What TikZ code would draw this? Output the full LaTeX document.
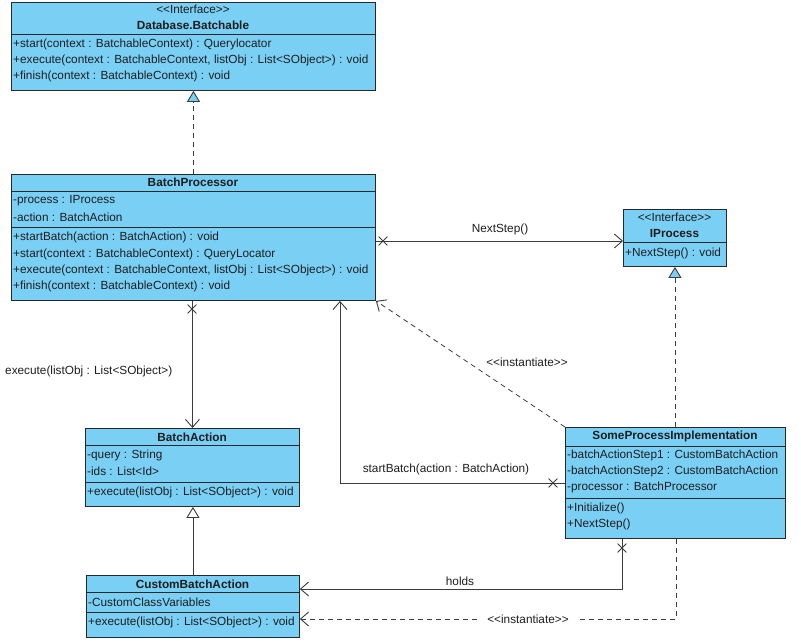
\documentclass[tikz,border=0pt]{standalone}
\usepackage{fontspec}
\setmainfont{Liberation Sans}
\usetikzlibrary{arrows.meta,shapes.misc}
\definecolor{boxblue}{RGB}{122,207,245}
\definecolor{bordercol}{RGB}{40,40,40}
\definecolor{linecol}{RGB}{60,60,60}
\definecolor{textcol}{RGB}{30,30,30}
\newcommand{\umlf}{\fontsize{11.8}{14}\selectfont}
\tikzset{
  box/.style={draw=bordercol, fill=boxblue, line width=0.9pt, inner sep=0, anchor=north west},
  sepline/.style={draw=bordercol, line width=0.9pt},
  txt/.style={font=\umlf, inner sep=0, anchor=west, text=textcol},
  ttl/.style={font=\umlf\bfseries, inner sep=0, text=textcol},
  ster/.style={font=\umlf, inner sep=0, text=textcol},
  lbl/.style={font=\umlf, inner sep=0, text=textcol},
  conn/.style={draw=linecol, line width=0.8pt},
  dashconn/.style={draw=linecol, line width=0.8pt, dash pattern=on 5pt off 4pt},
  openhead/.style={-{Straight Barb[length=8pt,width=14pt,line width=0.9pt]}},
  realhead/.style={-{Triangle[open,fill=boxblue,length=11pt,width=13pt,line width=0.9pt]}},
  genhead/.style={-{Triangle[open,fill=white,length=11pt,width=13pt,line width=0.9pt]}},
  xmark/.style={cross out, draw=linecol, line width=0.8pt, minimum size=8pt, inner sep=0},
}
\begin{document}
\begin{tikzpicture}[x=1pt,y=-1pt]
\useasboundingbox[fill=white] (0,0) rectangle (801,643);

% Database.Batchable
\node[box, minimum width=364pt, minimum height=88pt] (db) at (11,2) {};
\node[ster] (db-s) at (193,9) {<{}<Interface>{}>};
\node[ttl] (db-t) at (193,25) {Database.Batchable};
\draw[sepline] (db.west |- 0,34) -- (db.east |- 0,34);
\node[txt] (db-m1) at (13,44) {+start(context : BatchableContext) : Querylocator};
\node[txt] (db-m2) at (13,60) {+execute(context : BatchableContext, listObj : List<SObject>) : void};
\node[txt] (db-m3) at (13,76) {+finish(context : BatchableContext) : void};

% BatchProcessor
\node[box, minimum width=364pt, minimum height=126pt] (bp) at (11,174) {};
\node[ttl] (bp-t) at (193,182) {BatchProcessor};
\draw[sepline] (bp.west |- 0,191) -- (bp.east |- 0,191);
\node[txt] (bp-a1) at (13,201) {-process : IProcess};
\node[txt] (bp-a2) at (13,217) {-action : BatchAction};
\draw[sepline] (bp.west |- 0,227) -- (bp.east |- 0,227);
\node[txt] (bp-m1) at (13,237) {+startBatch(action : BatchAction) : void};
\node[txt] (bp-m2) at (13,254) {+start(context : BatchableContext) : QueryLocator};
\node[txt] (bp-m3) at (13,270) {+execute(context : BatchableContext, listObj : List<SObject>) : void};
\node[txt] (bp-m4) at (13,286) {+finish(context : BatchableContext) : void};

% IProcess
\node[box, minimum width=103pt, minimum height=57pt] (ip) at (623,209) {};
\node[ster] (ip-s) at (674.5,217) {<{}<Interface>{}>};
\node[ttl] (ip-t) at (674.5,233) {IProcess};
\draw[sepline] (ip.west |- 0,242) -- (ip.east |- 0,242);
\node[txt] (ip-m1) at (625,253) {+NextStep() : void};

% BatchAction
\node[box, minimum width=214pt, minimum height=78pt] (ba) at (85,428) {};
\node[ttl] (ba-t) at (192,437) {BatchAction};
\draw[sepline] (ba.west |- 0,445) -- (ba.east |- 0,445);
\node[txt] (ba-a1) at (87,455) {-query : String};
\node[txt] (ba-a2) at (87,471) {-ids : List<Id>};
\draw[sepline] (ba.west |- 0,482) -- (ba.east |- 0,482);
\node[txt] (ba-m1) at (87,492) {+execute(listObj : List<SObject>) : void};

% SomeProcessImplementation
\node[box, minimum width=220pt, minimum height=111pt] (spi) at (565,427) {};
\node[ttl] (spi-t) at (675,436) {SomeProcessImplementation};
\draw[sepline] (spi.west |- 0,446) -- (spi.east |- 0,446);
\node[txt] (spi-a1) at (567,455) {-batchActionStep1 : CustomBatchAction};
\node[txt] (spi-a2) at (567,471) {-batchActionStep2 : CustomBatchAction};
\node[txt] (spi-a3) at (567,487) {-processor : BatchProcessor};
\draw[sepline] (spi.west |- 0,498) -- (spi.east |- 0,498);
\node[txt] (spi-m1) at (567,508) {+Initialize()};
\node[txt] (spi-m2) at (567,524) {+NextStep()};

% CustomBatchAction
\node[box, minimum width=213pt, minimum height=62pt] (cba) at (86,575) {};
\node[ttl] (cba-t) at (192.5,584) {CustomBatchAction};
\draw[sepline] (cba.west |- 0,592) -- (cba.east |- 0,592);
\node[txt] (cba-a1) at (88,602) {-CustomClassVariables};
\draw[sepline] (cba.west |- 0,612) -- (cba.east |- 0,612);
\node[txt] (cba-m1) at (88,622) {+execute(listObj : List<SObject>) : void};

% Connectors
% BatchProcessor realizes Database.Batchable
\draw[dashconn, realhead] (bp.north) -- (bp.north |- db.south);

% BatchProcessor -> IProcess
\draw[conn, openhead] (bp.east |- 0,241) -- (ip.west |- 0,241);
\node[xmark] (x1) at (383,241) {};
\node[lbl] (l1) at (500,229) {NextStep()};

% BatchProcessor -> BatchAction
\draw[conn, openhead] (ba.north |- bp.south) -- (ba.north);
\node[xmark] (x2) at (192,309) {};
\node[lbl, anchor=west] (l2) at (5,371) {execute(listObj : List<SObject>)};

% SomeProcessImplementation -> BatchProcessor (startBatch)
\draw[conn, openhead] (spi.west |- 0,483) -| (bp.south -| 340,0);
\node[xmark] (x3) at (553,483) {};
\node[lbl] (l3) at (446,469) {startBatch(action : BatchAction)};

% instantiate BatchProcessor
\draw[dashconn, openhead] (spi.north west) -- (bp.south east);
\node[lbl] (l4) at (527,362) {<{}<instantiate>{}>};

% SomeProcessImplementation realizes IProcess
\draw[dashconn, realhead] (ip.south |- spi.north) -- (ip.south);

% CustomBatchAction generalizes BatchAction
\draw[conn, genhead] (cba.north) -- (cba.north |- ba.south);

% holds
\draw[conn, openhead] (spi.south -| 622,0) |- (cba.east |- 0,589);
\node[xmark] (x4) at (622,548) {};
\node[lbl] (l5) at (460,581) {holds};

% instantiate CustomBatchAction
\draw[dashconn, openhead] (spi.south -| 676,0) |- (cba.east |- 0,619);
\node[lbl, fill=white, inner xsep=8pt, inner ysep=2pt] (l6) at (528,619) {<{}<instantiate>{}>};
\end{tikzpicture}
\end{document}
